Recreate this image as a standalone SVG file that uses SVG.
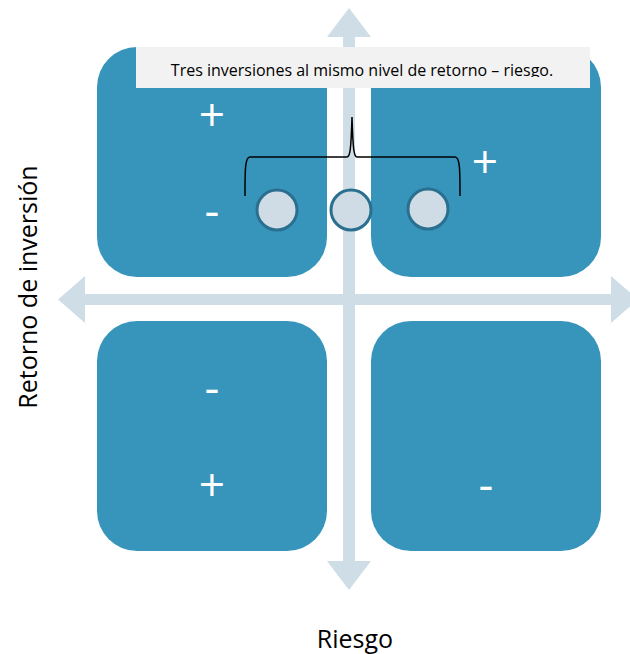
<svg xmlns="http://www.w3.org/2000/svg" width="630" height="654" viewBox="0 0 630 654">
<style>
.box{fill:#3795bb}
.axis{fill:#cfdde7}
.sign{fill:#ffffff;font-family:"Open Sans","Liberation Sans",sans-serif;font-size:46px;text-anchor:middle}
.dot{fill:#cfdce6;stroke:#2a6f8f;stroke-width:3}
.lbl{fill:#000;font-family:"Open Sans","Liberation Sans",sans-serif;font-size:25px;text-anchor:middle}
</style>
<defs>
<clipPath id="titleClip"><rect x="136" y="47" width="454" height="30"/></clipPath>
</defs>
<rect width="630" height="654" fill="#ffffff"/>
<g id="q-top-left"><rect class="box" x="97" y="47" width="230" height="230" rx="40" ry="40"/></g>
<g id="q-top-right"><rect class="box" x="371" y="47" width="230" height="230" rx="40" ry="40"/></g>
<g id="q-bottom-left"><rect class="box" x="97" y="321" width="230" height="230" rx="40" ry="40"/></g>
<g id="q-bottom-right"><rect class="box" x="371" y="321" width="230" height="230" rx="40" ry="40"/></g>
<g id="connectors">
<path class="axis" d="M343,37 L327,37 L349,8 L371,37 L355,37 L355,561 L371,561 L349,590 L327,561 L343,561 Z"/>
<path class="axis" d="M85,294 L85,276 L58,299.5 L85,323 L85,305 L611,305 L611,323 L638,299.5 L611,276 L611,294 Z"/>
</g>
<g id="title">
<rect x="136" y="47" width="454" height="41" fill="#f2f2f2"/>
<text x="362" y="76" clip-path="url(#titleClip)" font-family="'Open Sans','Liberation Sans',sans-serif" font-size="16" fill="#000" text-anchor="middle">Tres inversiones al mismo nivel de retorno – riesgo.</text>
</g>
<g id="signs">
<text class="sign" x="212" y="131">+</text>
<text class="sign" x="212" y="227">-</text>
<text class="sign" x="485" y="178">+</text>
<text class="sign" x="212" y="404">-</text>
<text class="sign" x="212" y="501">+</text>
<text class="sign" x="486" y="501">-</text>
</g>
<g id="brace">
<path d="M245,196 C245,170 245,157 250,157 L347,157 C350,157 351,150 352,117 C353,150 354,157 357,157 L455,157 C460,157 460,170 460,196" fill="none" stroke="#000" stroke-width="1.5"/>
</g>
<g id="investment-1"><circle class="dot" cx="277" cy="210" r="20"/></g>
<g id="investment-2"><circle class="dot" cx="351" cy="210" r="20"/></g>
<g id="investment-3"><circle class="dot" cx="428" cy="209" r="20"/></g>
<g id="y-label"><text class="lbl" transform="translate(37,287) rotate(-90)">Retorno de inversión</text></g>
<g id="x-label"><text class="lbl" x="355" y="648">Riesgo</text></g>
</svg>
